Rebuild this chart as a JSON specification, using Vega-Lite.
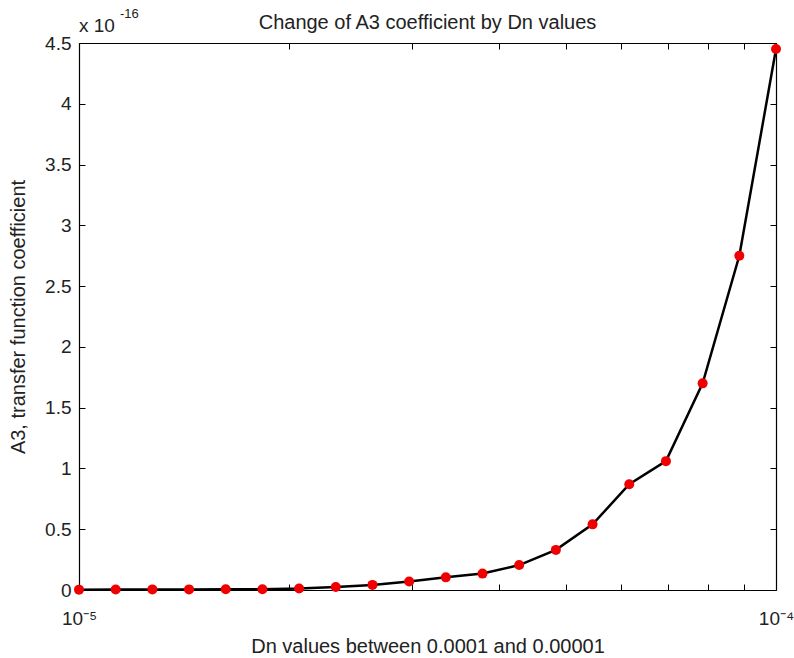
{
  "$schema": "https://vega.github.io/schema/vega-lite/v6.json",
  "width": 697,
  "height": 547,
  "autosize": {"type": "none"},
  "padding": {"left": 79, "top": 43, "right": 18, "bottom": 68},
  "background": "white",
  "config": {
    "view": {"stroke": null},
    "font": "Liberation Sans",
    "axis": {"grid": false, "domainColor": "#000", "tickColor": "#000", "labelColor": "#222", "titleColor": "#222", "labelFont": "Liberation Sans", "titleFont": "Liberation Sans", "labelFontSize": 19, "titleFontSize": 20, "titleFontWeight": "normal", "domainWidth": 1.2, "tickWidth": 1}
  },
  "title": {"text": "Change of A3 coefficient by Dn values", "fontSize": 20, "fontWeight": "normal", "color": "#222", "font": "Liberation Sans", "offset": -4, "dy": 21},
  "data": {"values": [
    {"dn": 1.0000e-5, "a3": 0.003e-16},
    {"dn": 1.1288e-5, "a3": 0.004e-16},
    {"dn": 1.2743e-5, "a3": 0.005e-16},
    {"dn": 1.4384e-5, "a3": 0.005e-16},
    {"dn": 1.6238e-5, "a3": 0.006e-16},
    {"dn": 1.8330e-5, "a3": 0.006e-16},
    {"dn": 2.0691e-5, "a3": 0.012e-16},
    {"dn": 2.3357e-5, "a3": 0.025e-16},
    {"dn": 2.6367e-5, "a3": 0.042e-16},
    {"dn": 2.9764e-5, "a3": 0.07e-16},
    {"dn": 3.3598e-5, "a3": 0.104e-16},
    {"dn": 3.7927e-5, "a3": 0.135e-16},
    {"dn": 4.2813e-5, "a3": 0.205e-16},
    {"dn": 4.8329e-5, "a3": 0.33e-16},
    {"dn": 5.4556e-5, "a3": 0.54e-16},
    {"dn": 6.1585e-5, "a3": 0.87e-16},
    {"dn": 6.9519e-5, "a3": 1.06e-16},
    {"dn": 7.8476e-5, "a3": 1.70e-16},
    {"dn": 8.8587e-5, "a3": 2.75e-16},
    {"dn": 1.0000e-4, "a3": 4.45e-16}
  ]},
  "resolve": {"axis": {"x": "independent", "y": "independent"}},
  "layer": [
    {
      "mark": {"type": "line", "color": "#000", "strokeWidth": 2.5},
      "encoding": {
        "x": {"field": "dn", "type": "quantitative", "scale": {"type": "log", "domain": [1e-5, 1e-4], "nice": false},
          "axis": {"orient": "bottom", "title": "Dn values between 0.0001 and 0.00001", "titlePadding": 8, "values": [1e-5, 2e-5, 3e-5, 4e-5, 5e-5, 6e-5, 7e-5, 8e-5, 9e-5, 1e-4], "tickSize": -6, "labelPadding": 25,
            "labelExpr": "abs(datum.value - 1e-5) < 1e-7 ? '10⁻⁵' : (abs(datum.value - 1e-4) < 1e-6 ? '10⁻⁴' : '')", "labelFlush": false, "labelOverlap": false}},
        "y": {"field": "a3", "type": "quantitative", "scale": {"domain": [0, 4.5e-16], "nice": false, "zero": true},
          "axis": {"orient": "left", "title": "A3, transfer function coefficient", "titlePadding": 16, "values": [0, 0.5e-16, 1e-16, 1.5e-16, 2e-16, 2.5e-16, 3e-16, 3.5e-16, 4e-16, 4.5e-16], "tickSize": -6, "labelPadding": 14,
            "labelExpr": "format(datum.value * 1e16, '.1~f')", "labelOverlap": false, "labelFlush": false}}
      }
    },
    {
      "mark": {"type": "point", "filled": true, "color": "#f00000", "size": 100, "opacity": 1, "shape": "circle"},
      "encoding": {
        "x": {"field": "dn", "type": "quantitative", "axis": {"orient": "top", "title": null, "labels": false, "values": [1e-5, 2e-5, 3e-5, 4e-5, 5e-5, 6e-5, 7e-5, 8e-5, 9e-5, 1e-4], "tickSize": -6}},
        "y": {"field": "a3", "type": "quantitative", "axis": {"orient": "right", "title": null, "labels": false, "values": [0, 0.5e-16, 1e-16, 1.5e-16, 2e-16, 2.5e-16, 3e-16, 3.5e-16, 4e-16, 4.5e-16], "tickSize": -6}}
      }
    },
    {
      "data": {"values": [{"dn": 1e-5, "a3": 4.5e-16, "label": "x 10"}]},
      "mark": {"type": "text", "align": "left", "baseline": "alphabetic", "color": "#222", "font": "Liberation Sans", "fontSize": 19, "dy": -11},
      "encoding": {
        "x": {"field": "dn", "type": "quantitative", "axis": null},
        "y": {"field": "a3", "type": "quantitative", "axis": null},
        "text": {"field": "label"}
      }
    },
    {
      "data": {"values": [{"dn": 1e-5, "a3": 4.5e-16, "label": "-16"}]},
      "mark": {"type": "text", "align": "left", "baseline": "alphabetic", "color": "#222", "font": "Liberation Sans", "fontSize": 13, "dx": 41, "dy": -25},
      "encoding": {
        "x": {"field": "dn", "type": "quantitative", "axis": null},
        "y": {"field": "a3", "type": "quantitative", "axis": null},
        "text": {"field": "label"}
      }
    }
  ]
}
